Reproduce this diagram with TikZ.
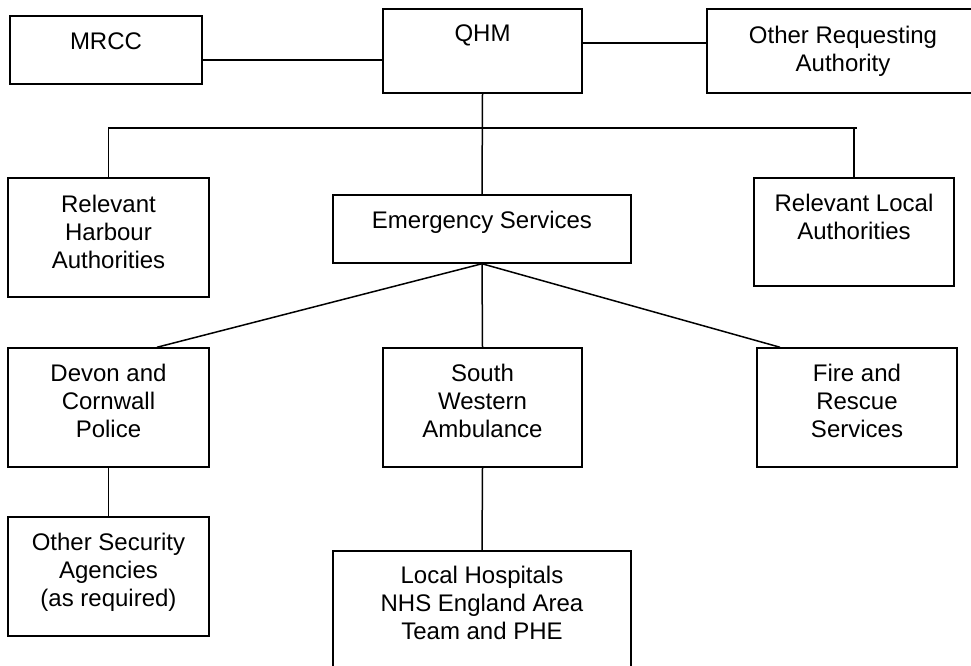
\documentclass[tikz,border=0pt]{standalone}
\usepackage{fontspec}
\setmainfont{Liberation Sans}
\begin{document}
\begin{tikzpicture}[x=1pt,y=-1pt,
  box/.style={draw=black,line width=1.5pt,inner sep=0pt,fill=none},
  lbl/.style={anchor=north,inner sep=0pt,align=center,font=\fontsize{24}{28}\selectfont},
  conn/.style={draw=black,line width=1.5pt}]
\useasboundingbox (0,0) rectangle (971,666);
% boxes
\node[box,minimum width=192pt,minimum height=68pt] (mrcc) at (106,50) {};
\node[box,minimum width=199pt,minimum height=84pt] (qhm) at (482.5,51) {};
\node[box,minimum width=272pt,minimum height=84pt] (ora) at (843,51) {};
\node[box,minimum width=201pt,minimum height=119pt] (rha) at (108.5,237.5) {};
\node[box,minimum width=298pt,minimum height=68pt] (es) at (482,229) {};
\node[box,minimum width=200pt,minimum height=108pt] (rla) at (854,232) {};
\node[box,minimum width=201pt,minimum height=119pt] (dcp) at (108.5,407.5) {};
\node[box,minimum width=199pt,minimum height=119pt] (swa) at (482.5,407.5) {};
\node[box,minimum width=200pt,minimum height=119pt] (frs) at (857,407.5) {};
\node[box,minimum width=201pt,minimum height=119pt] (osa) at (108.5,576.5) {};
\node[box,minimum width=298pt,minimum height=120pt] (lh) at (482,611) {};
% texts
\node[lbl] (mrcc-t) at ([yshift=-17pt]mrcc.north) {MRCC};
\node[lbl] (qhm-t) at ([yshift=-16pt]qhm.north) {QHM};
\node[lbl] (ora-t) at ([yshift=-18pt]ora.north) {Other Requesting\\Authority};
\node[lbl] (rha-t) at ([yshift=-17.5pt]rha.north) {Relevant\\Harbour\\Authorities};
\node[lbl] (es-t) at ([yshift=-17pt]es.north) {Emergency Services};
\node[lbl] (rla-t) at ([yshift=-17pt]rla.north) {Relevant Local\\Authorities};
\node[lbl] (dcp-t) at ([yshift=-17pt]dcp.north) {Devon and\\Cornwall\\Police};
\node[lbl] (swa-t) at ([yshift=-17pt]swa.north) {South\\Western\\Ambulance};
\node[lbl] (frs-t) at ([yshift=-17pt]frs.north) {Fire and\\Rescue\\Services};
\node[lbl] (osa-t) at ([yshift=-17pt]osa.north) {Other Security\\Agencies\\(as required)};
\node[lbl] (lh-t) at ([yshift=-16pt]lh.north) {Local Hospitals\\NHS England Area\\Team and PHE};
% connectors
\draw[conn] ([yshift=-10pt]mrcc.east) -- ([yshift=-10pt]mrcc.east -| qhm.west);
\draw[conn] ([yshift=8pt]qhm.east) -- ([yshift=8pt]qhm.east -| ora.west);
\draw[conn] (qhm.south) -- (es.north);
\coordinate (busL) at (108.5,128);
\coordinate (busR) at (857,128);
\draw[conn] (rha.north) -- (busL) -- (busR);
\draw[conn] (rla.north |- busR) -- (rla.north);
\draw[conn] (es.south) -- ([xshift=48.5pt]dcp.north);
\draw[conn] (es.south) -- (swa.north);
\draw[conn] (es.south) -- ([xshift=-77pt]frs.north);
\draw[conn] (dcp.south) -- (osa.north);
\draw[conn] (swa.south) -- (lh.north);
\end{tikzpicture}
\end{document}
